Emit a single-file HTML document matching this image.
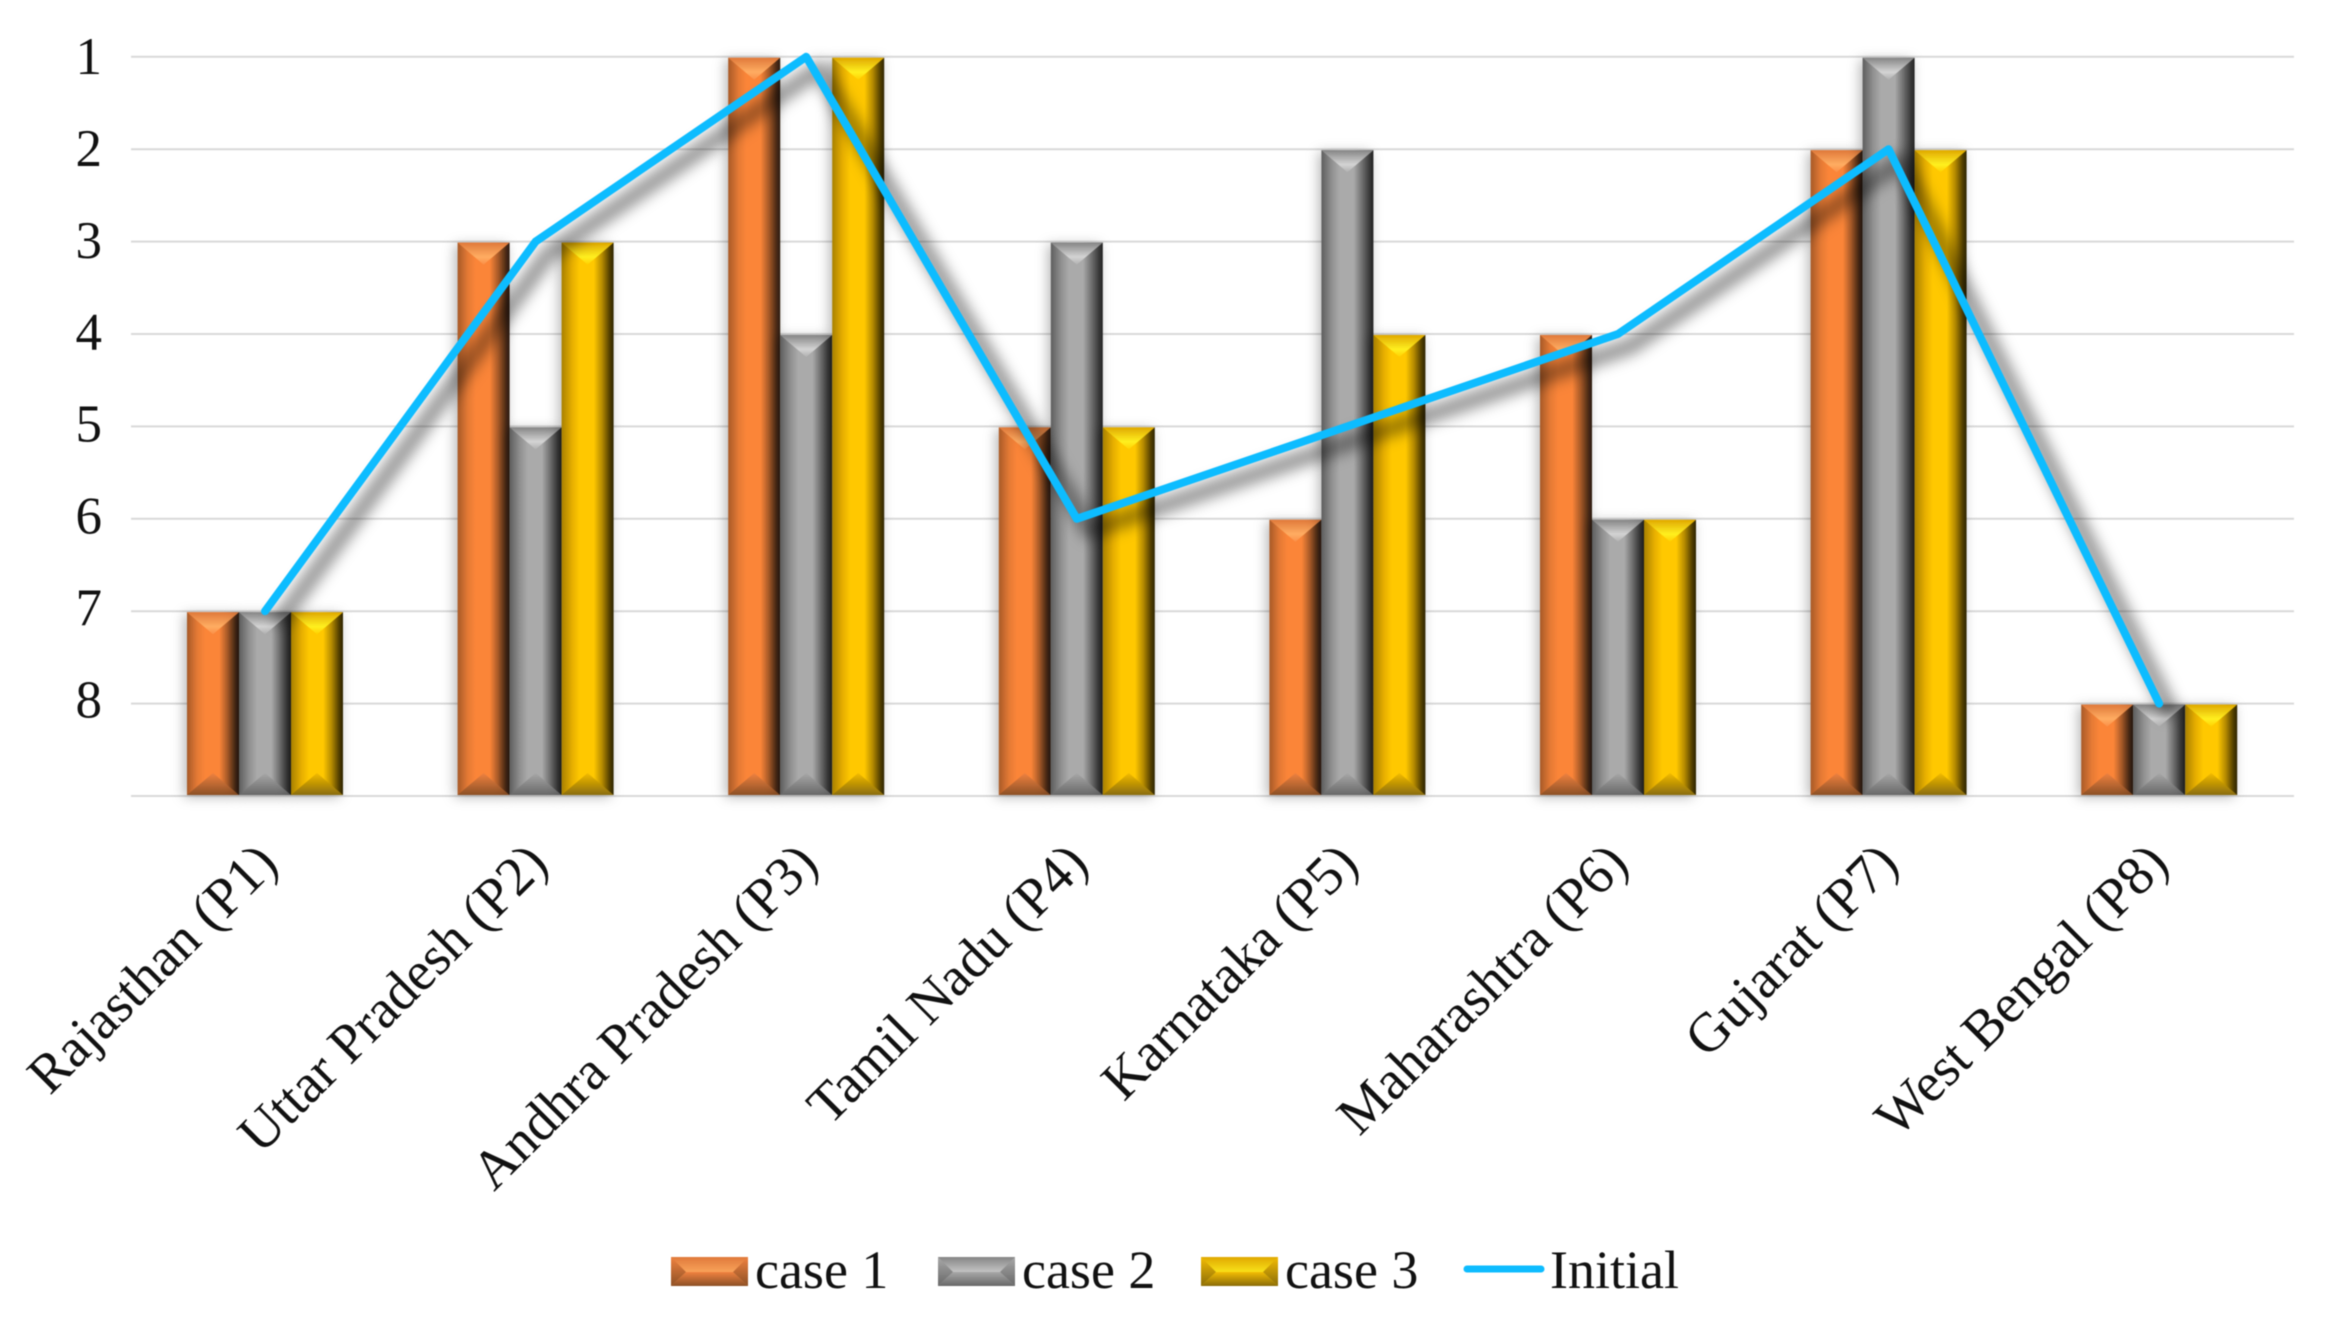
<!DOCTYPE html>
<html lang="en">
<head>
<meta charset="utf-8">
<title>Rank comparison chart</title>
<style>
html,body{margin:0;padding:0;background:#fff;}
svg{display:block;filter:blur(0.55px);}
text{font-family:"Liberation Serif",serif;fill:#111;}
</style>
</head>
<body>
<svg id="chart" xmlns="http://www.w3.org/2000/svg" width="2326" height="1318" viewBox="0 0 2326 1318">
<defs>
<filter id="barShadow" x="-40%" y="-10%" width="180%" height="120%"><feDropShadow dx="-3" dy="2" stdDeviation="6" flood-color="#000" flood-opacity="0.28"/></filter>
<filter id="lineBlur" x="-10%" y="-10%" width="120%" height="120%"><feGaussianBlur stdDeviation="7"/></filter>
<linearGradient id="side0" x1="0" x2="1" y1="0" y2="0"><stop offset="0" stop-color="#a85a28"/><stop offset=".2" stop-color="#e57a35"/><stop offset=".35" stop-color="#fb8538"/><stop offset=".62" stop-color="#fb8538"/><stop offset=".78" stop-color="#a85a28"/><stop offset=".93" stop-color="#4a2a15"/><stop offset="1" stop-color="#2a1a10"/></linearGradient>
<linearGradient id="side1" x1="0" x2="1" y1="0" y2="0"><stop offset="0" stop-color="#5e5e5e"/><stop offset=".2" stop-color="#909090"/><stop offset=".35" stop-color="#aaaaaa"/><stop offset=".62" stop-color="#aaaaaa"/><stop offset=".78" stop-color="#707070"/><stop offset=".93" stop-color="#383838"/><stop offset="1" stop-color="#222222"/></linearGradient>
<linearGradient id="side2" x1="0" x2="1" y1="0" y2="0"><stop offset="0" stop-color="#a88000"/><stop offset=".2" stop-color="#e6ae00"/><stop offset=".35" stop-color="#ffc800"/><stop offset=".62" stop-color="#ffc800"/><stop offset=".78" stop-color="#b48a00"/><stop offset=".93" stop-color="#4e3c00"/><stop offset="1" stop-color="#2e2400"/></linearGradient>
<linearGradient id="top0" x1="0" x2="0" y1="0" y2="1"><stop offset="0" stop-color="#e0793a"/><stop offset=".65" stop-color="#ffad62"/><stop offset="1" stop-color="#fb8f48"/></linearGradient>
<linearGradient id="top1" x1="0" x2="0" y1="0" y2="1"><stop offset="0" stop-color="#858585"/><stop offset=".65" stop-color="#d4d4d4"/><stop offset="1" stop-color="#b0b0b0"/></linearGradient>
<linearGradient id="top2" x1="0" x2="0" y1="0" y2="1"><stop offset="0" stop-color="#e0a800"/><stop offset=".65" stop-color="#fff020"/><stop offset="1" stop-color="#ffd000"/></linearGradient>
<linearGradient id="bot0" x1="0" x2="0" y1="0" y2="1"><stop offset="0" stop-color="#f08240"/><stop offset="1" stop-color="#8c5025"/></linearGradient>
<linearGradient id="bot1" x1="0" x2="0" y1="0" y2="1"><stop offset="0" stop-color="#a8a8a8"/><stop offset="1" stop-color="#686868"/></linearGradient>
<linearGradient id="bot2" x1="0" x2="0" y1="0" y2="1"><stop offset="0" stop-color="#f4bc04"/><stop offset="1" stop-color="#8a6c08"/></linearGradient>
</defs>
<g id="grid"></g>
<g id="bars"></g>
<g id="line"></g>
<g id="yticks"></g>
<g id="xlabels"></g>
<g id="legend"></g>
</svg>
<script>
const categories = ["Rajasthan (P1)", "Uttar Pradesh (P2)", "Andhra Pradesh (P3)", "Tamil Nadu (P4)", "Karnataka (P5)", "Maharashtra (P6)", "Gujarat (P7)", "West Bengal (P8)"];
const case1 = [7, 3, 1, 5, 6, 4, 2, 8];
const case2 = [7, 5, 4, 3, 2, 6, 1, 8];
const case3 = [7, 3, 1, 5, 4, 6, 2, 8];
const initial = [7, 3, 1, 6, 5, 4, 2, 8];
const yTicks = [1, 2, 3, 4, 5, 6, 7, 8];
const gridLevels = [1, 2, 3, 4, 5, 6, 7, 8, 9];
const axisBottomValue = 9;

const NS = "http://www.w3.org/2000/svg";
const catW = 270.6, firstCenter = 265, gridLeft = 131, gridRight = 2294, y1 = 56.8, yStep = 92.4, barW = 52;
const xCat = i => firstCenter + catW * i;
const yVal = v => y1 + (v - 1) * yStep;
const yLabel = v => 74 + (v - 1) * 91.9;

function mk(tag, attrs, parent) {
  const e = document.createElementNS(NS, tag);
  for (const k in attrs) e.setAttribute(k, attrs[k]);
  parent.appendChild(e);
  return e;
}
const $ = id => document.getElementById(id);

gridLevels.forEach(v => {
  const l = mk("line", {x1: gridLeft, x2: gridRight, y1: yVal(v), y2: yVal(v), stroke: "#d9d9d9", "stroke-width": 2}, $("grid"));
  
  
});

function bevelBar(parent, x, y, w, h, s) {
  const b = Math.min(w / 2, 22);
  mk("rect", {x: x, y: y, width: w, height: h, fill: "url(#side" + s + ")"}, parent);
  mk("polygon", {points: `${x},${y} ${x + w},${y} ${x + w / 2},${y + b}`, fill: "url(#top" + s + ")"}, parent);
  mk("polygon", {points: `${x},${y + h} ${x + w},${y + h} ${x + w / 2},${y + h - b}`, fill: "url(#bot" + s + ")"}, parent);
}

const seriesList = [case1, case2, case3];
const seriesNames = ["case-1", "case-2", "case-3"];
seriesList.forEach((vals, s) => {
  const g = mk("g", {filter: "url(#barShadow)"}, $("bars"));
  
  
  vals.forEach((v, i) => {
    const bar = mk("g", {}, g);
    
    
    const x = xCat(i) - barW * 1.5 + s * barW;
    const top = yVal(v) + 1;
    bevelBar(bar, x, top, barW, yVal(axisBottomValue) - top - 1, s);
  });
});

const linePoints = initial.map((v, i) => xCat(i) + "," + yVal(v)).join(" ");
const lineShadow = mk("polyline", {
  points: linePoints, fill: "none", stroke: "#000", "stroke-opacity": 0.4, "stroke-width": 17,
  "stroke-linejoin": "round", transform: "translate(13 12)", filter: "url(#lineBlur)"
}, $("line"));


const linePath = mk("polyline", {
  points: linePoints, fill: "none", stroke: "#0dbcff", "stroke-width": 8, "stroke-linejoin": "round", "stroke-linecap": "round"
}, $("line"));



yTicks.forEach(v => {
  const t = mk("text", {x: 102, y: yLabel(v), "text-anchor": "end", "font-size": 53}, $("yticks"));
  
  
  t.textContent = v;
});

categories.forEach((c, i) => {
  const x = xCat(i) + 15 - i * 0.5, y = 866;
  const t = mk("text", {x: x, y: y, "text-anchor": "end", "font-size": 55, transform: `rotate(-45 ${x} ${y})`}, $("xlabels"));
  
  
  t.textContent = c;
});

const legendLabels = ["case 1", "case 2", "case 3"];
const legendSwatchX = [671, 938, 1201];
legendLabels.forEach((lab, s) => {
  const g = mk("g", {}, $("legend"));
  
  
  const x = legendSwatchX[s], y = 1257, w = 77, h = 29;
  mk("rect", {x: x, y: y, width: w, height: h, fill: "url(#top" + s + ")"}, g);
  mk("polygon", {points: `${x},${y + h} ${x + w},${y + h} ${x + w - 15},${y + 15} ${x + 15},${y + 15}`, fill: "url(#bot" + s + ")"}, g);
  mk("polygon", {points: `${x},${y} ${x + 15},${y + 15} ${x},${y + h}`, fill: "url(#bot" + s + ")"}, g);
  mk("polygon", {points: `${x + w},${y} ${x + w - 15},${y + 15} ${x + w},${y + h}`, fill: "url(#bot" + s + ")"}, g);
  const t = mk("text", {x: x + 84, y: 1288, "font-size": 54}, g);
  t.textContent = lab;
});
const lg = mk("g", {}, $("legend"));


mk("line", {x1: 1467, x2: 1541, y1: 1269, y2: 1269, stroke: "#0dbcff", "stroke-width": 7, "stroke-linecap": "round"}, lg);
const lt = mk("text", {x: 1550, y: 1288, "font-size": 54}, lg);
lt.textContent = "Initial";
</script>
</body>
</html>
